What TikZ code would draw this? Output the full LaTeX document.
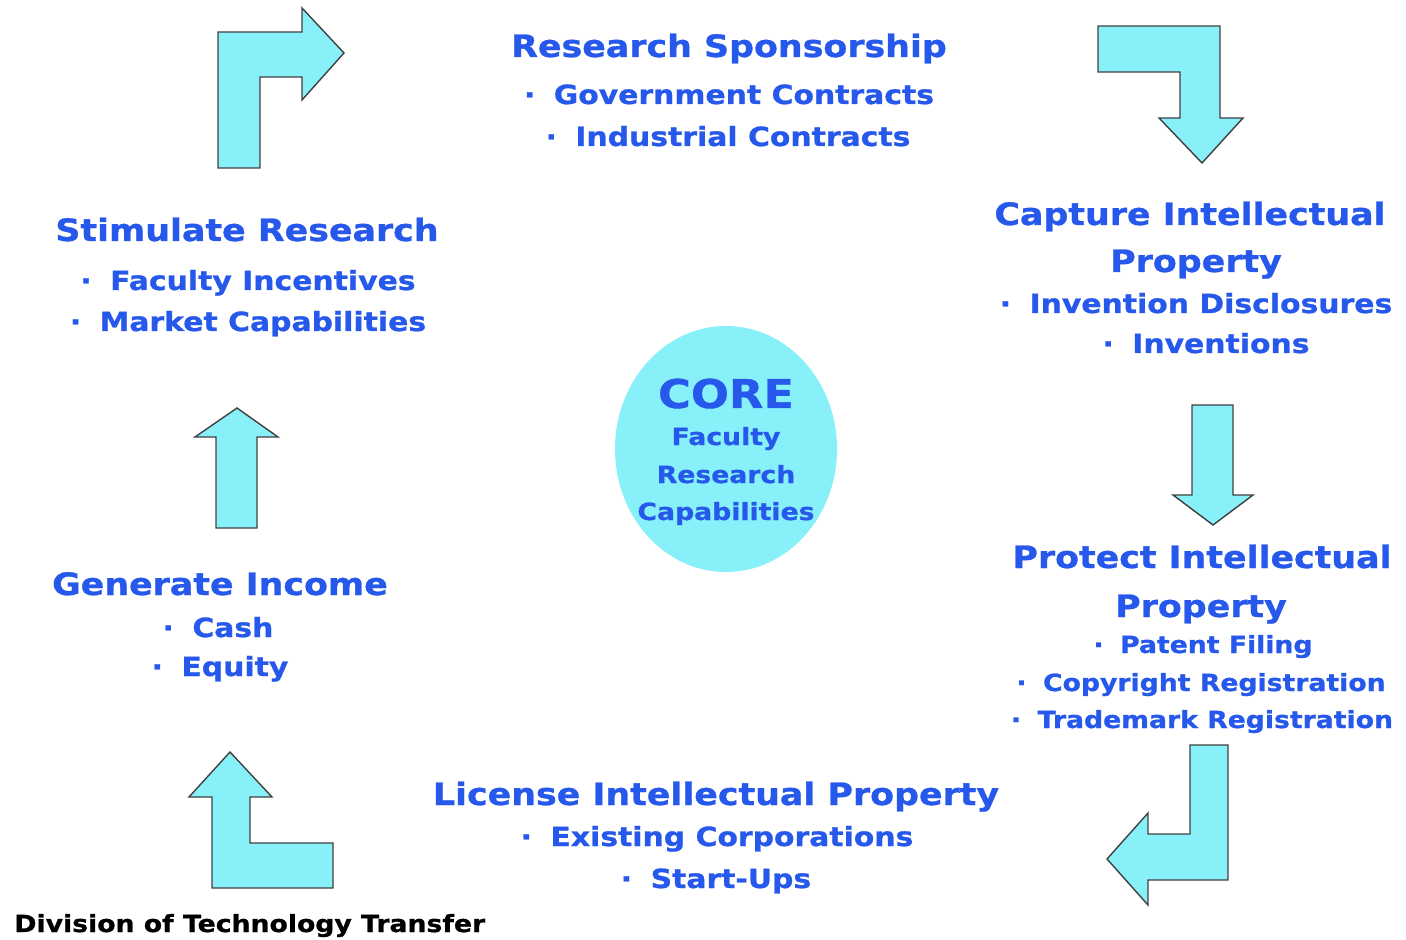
\documentclass[tikz,border=0pt]{standalone}
\usepackage{fontspec}
\setmainfont{DejaVu Sans}[FakeStretch=1.13,FakeBold=0.9]
\usepackage{tikz}
\usetikzlibrary{shapes}

\definecolor{txtblue}{RGB}{38,88,235}
\definecolor{arrcyan}{RGB}{136,240,248}
\newcommand\bul{·\hspace{.7em}}

\begin{document}
\begin{tikzpicture}[x=0.5pt,y=-0.5pt,every node/.style={text=txtblue,anchor=base,inner sep=0pt},
head/.style={font=\bfseries\fontsize{15.4}{18}\selectfont},
item/.style={font=\bfseries\fontsize{13.2}{16}\selectfont},
small/.style={font=\bfseries\fontsize{11.8}{14}\selectfont},
turnarrow/.style={draw=black!75,fill=arrcyan,line width=0.7pt,line join=miter}
]
\useasboundingbox (0,0) rectangle (1406,940);
\fill[white] (0,0) rectangle (1406,940);

\draw[turnarrow] (218,168) -- (218,32) -- (302,32) -- (302,8) -- (344,53) -- (302,100) -- (302,77) -- (260,77) -- (260,168) -- cycle;
\draw[turnarrow] (1098,26) -- (1220,26) -- (1220,118) -- (1243,118) -- (1202,163) -- (1159,118) -- (1180,118) -- (1180,72) -- (1098,72) -- cycle;
\draw[turnarrow] (1192,405) -- (1233,405) -- (1233,495) -- (1253,495) -- (1213,525) -- (1173,495) -- (1192,495) -- cycle;
\draw[turnarrow] (1190,745) -- (1228,745) -- (1228,880) -- (1148,880) -- (1148,905) -- (1107,859) -- (1148,813) -- (1148,834) -- (1190,834) -- cycle;
\draw[turnarrow] (212,888) -- (333,888) -- (333,843) -- (250,843) -- (250,797) -- (272,797) -- (230,752) -- (189,797) -- (212,797) -- cycle;
\draw[turnarrow] (216,528) -- (257,528) -- (257,437) -- (278,437) -- (237,408) -- (195,437) -- (216,437) -- cycle;

\node[ellipse,fill=arrcyan,minimum width=111pt,minimum height=123pt,anchor=center](core) at (726,449) {};
\node[font=\bfseries\fontsize{19.8}{22}\selectfont](coretitle) at (726,408) {CORE};
\node[small](core1) at (726,445) {Faculty};
\node[small](core2) at (726,483) {Research};
\node[small](core3) at (726,520) {Capabilities};

\node[head](spons) at (729,57) {Research Sponsorship};
\node[item](spons1) at (729,104) {\bul Government Contracts};
\node[item](spons2) at (728,146) {\bul Industrial Contracts};

\node[head](stim) at (247,241) {Stimulate Research};
\node[item](stim1) at (248,290) {\bul Faculty Incentives};
\node[item](stim2) at (248,331) {\bul Market Capabilities};

\node[head](capt) at (1190,225) {Capture Intellectual};
\node[head](capt1) at (1196,272) {Property};
\node[item](capt2) at (1196,313) {\bul Invention Disclosures};
\node[item](capt3) at (1206,353) {\bul Inventions};

\node[head](prot) at (1202,568) {Protect Intellectual};
\node[head](prot1) at (1201,617) {Property};
\node[small](prot2) at (1203,653) {\bul Patent Filing};
\node[small](prot3) at (1201,691) {\bul Copyright Registration};
\node[small](prot4) at (1202,728) {\bul Trademark Registration};

\node[head](gen) at (220,595) {Generate Income};
\node[item](gen1) at (218,637) {\bul Cash};
\node[item](gen2) at (220,676) {\bul Equity};

\node[head](lic) at (716,805) {License Intellectual Property};
\node[item](lic1) at (717,846) {\bul Existing Corporations};
\node[item](lic2) at (716,888) {\bul Start-Ups};

\node[small,text=black,anchor=base west](dtt) at (14,932) {Division of Technology Transfer};
\end{tikzpicture}
\end{document}
